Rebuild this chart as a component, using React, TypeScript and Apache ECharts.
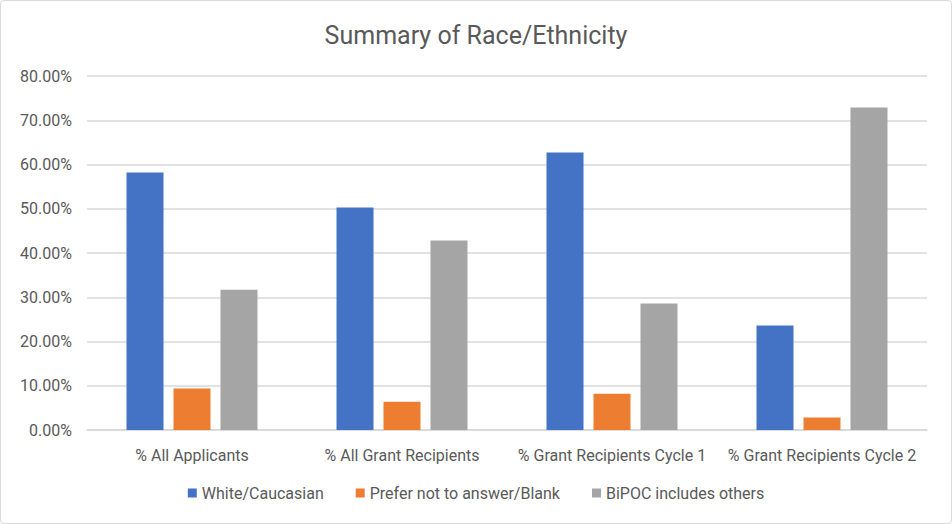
import React, { useEffect, useRef } from "react";
import * as echarts from "echarts";

const categories = [
  "% All Applicants",
  "% All Grant Recipients",
  "% Grant Recipients Cycle 1",
  "% Grant Recipients Cycle 2",
];
const whiteValues = [58.2, 50.3, 62.7, 23.6];
const preferValues = [9.4, 6.4, 8.2, 2.8];
const bipocValues = [31.7, 42.8, 28.6, 72.9];
const seriesNames = ["White/Caucasian", "Prefer not to answer/Blank", "BiPOC includes others"];
const colors = ["#4472C4", "#ED7D31", "#A5A5A5"];

export default function App() {
  const ref = useRef<HTMLDivElement>(null);
  useEffect(() => {
    if (!ref.current) return;
    const chart = echarts.init(ref.current, undefined, { renderer: "svg" });
    const font = "Roboto, 'Open Sans', sans-serif";
    const values = [whiteValues, preferValues, bipocValues];
    chart.setOption({
      animation: false,
      textStyle: { fontFamily: font },
      title: {
        text: "Summary of Race/Ethnicity",
        left: "center",
        top: 17,
        textStyle: { fontSize: 25, fontWeight: "normal", color: "#595959", fontFamily: font },
      },
      grid: { left: 86, right: 24, top: 75, bottom: 93 },
      legend: {
        bottom: 17,
        left: "center",
        itemWidth: 9,
        itemHeight: 9,
        itemGap: 32,
        icon: "rect",
        textStyle: { fontSize: 16, color: "#595959", fontFamily: font },
        data: seriesNames,
      },
      xAxis: {
        type: "category",
        data: categories,
        axisLine: { show: true, lineStyle: { color: "#D9D9D9", width: 1.5 } },
        axisTick: { show: false },
        axisLabel: { color: "#595959", fontSize: 16, margin: 17, interval: 0, fontFamily: font },
      },
      yAxis: {
        type: "value",
        min: 0,
        max: 80,
        interval: 10,
        axisLine: { show: false },
        axisTick: { show: false },
        splitLine: { lineStyle: { color: "#D9D9D9", width: 1.5 } },
        axisLabel: {
          color: "#595959",
          fontSize: 16,
          margin: 15,
          fontFamily: font,
          formatter: (v: number) => v.toFixed(2) + "%",
        },
      },
      series: seriesNames.map((name, i) => ({
        name,
        type: "bar",
        data: values[i],
        barWidth: 37,
        barGap: "27%",
        itemStyle: { color: colors[i] },
      })),
    });
    return () => chart.dispose();
  }, []);
  return (
    <div
      style={{
        position: "absolute",
        left: 0,
        top: 0,
        width: 952,
        height: 524,
        boxSizing: "border-box",
        border: "1px solid #D9D9D9",
        borderRadius: 4,
        background: "#fff",
      }}
    >
      <div ref={ref} style={{ width: 950, height: 522 }} />
    </div>
  );
}
